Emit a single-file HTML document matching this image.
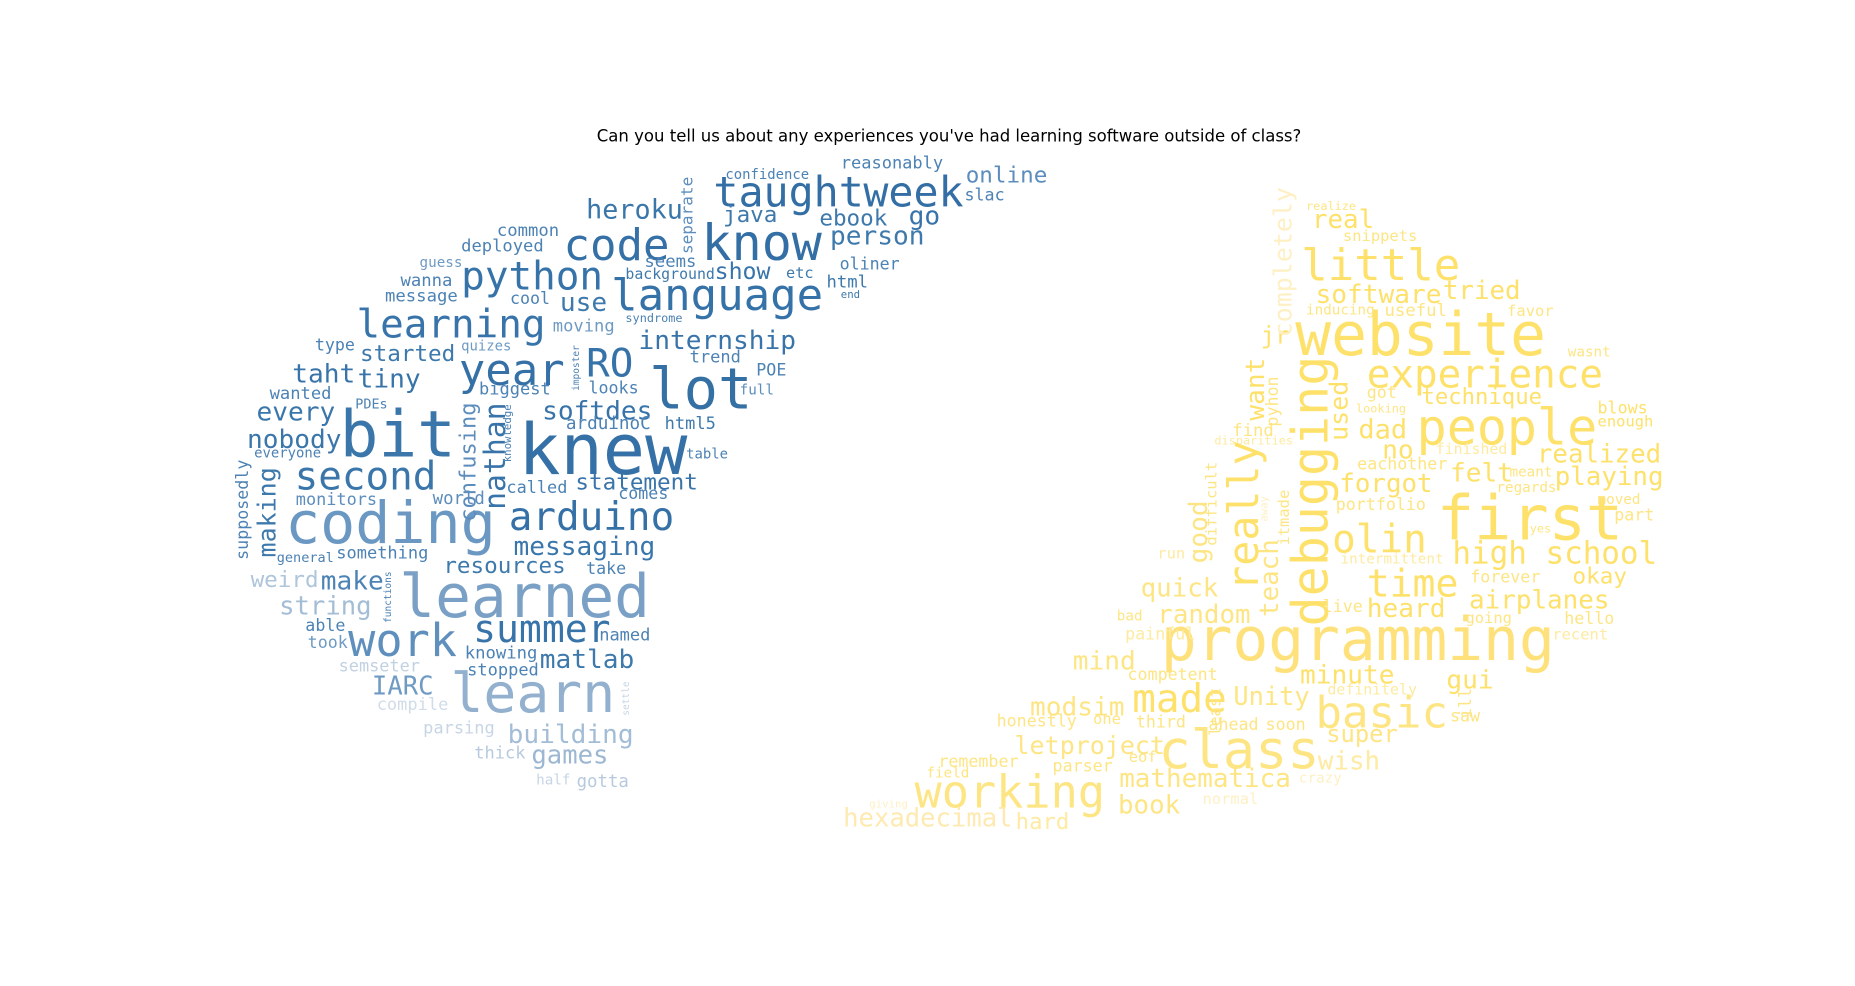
<!DOCTYPE html>
<html><head><meta charset="utf-8">
<style>
html,body{margin:0;padding:0;background:#fff;width:1855px;height:986px;overflow:hidden}
svg{display:block}
text{font-family:"DejaVu Sans Mono","Liberation Mono",monospace}
</style></head>
<body>
<svg id="cloud" width="1855" height="986" viewBox="0 0 1550 824" xmlns="http://www.w3.org/2000/svg">
<g transform="translate(-4.5,-1.5) scale(0.9944)">
<text x="802" y="120.5" text-anchor="middle" font-size="13.9" style="font-family:'DejaVu Sans','Liberation Sans',sans-serif" fill="#000">Can you tell us about any experiences you've had learning software outside of class?</text>
<g id="words"></g>
</g>
</svg>
<script>
// word, left x, baseline y (or box for rotated), font size, color, rotated
const blueWords = [
["knew",440,400,59,"#3571a6",0],["bit",290,385,54,"#3a76aa",0],["coding",244,458,49,"#6b98c2",0],
["learned",340,520,50,"#7aa1c5",0],["learn",383,600,46,"#93b1cf",0],["lot",550,345,48,"#3570a5",0],
["know",594,220,42,"#336ea4",0],["code",478,220,37,"#3571a6",0],["language",518,262,37,"#3572a7",0],
["taught",604,175,35,"#336ea4",0],["week",730,175,35,"#336ea4",0],["python",392,245,33,"#3673a8",0],
["learning",304,285,33,"#3874a9",0],["year",390,325,37,"#3571a6",0],["RO",497,318,33,"#3673a8",0],
["second",252,413,33,"#3a76aa",0],["arduino",432,447,33,"#3571a6",0],["work",297,553,38,"#5f8fbd",0],
["summer",402,541,32,"#3874a9",0],["heroku",497,185,22.5,"#3a76aa",0],["internship",541,295,22,"#3874a9",0],
["softdes",460,354,22,"#3874a9",0],["messaging",436,468,22,"#3a76aa",0],["statement",488,413,19,"#3874a9",0],
["resources",377,483,19,"#3e79ac",0],["matlab",458,563,22,"#3e79ac",0],["building",431,626,22,"#a3bdd6",0],
["games",451,643,21.5,"#9cb7d2",0],["IARC",317,585,21.5,"#6e9ac3",0],["string",239,518,21.5,"#a3bdd6",0],
["make",274,497,22,"#4c82b4",0],["weird",215,495,19,"#aec5db",0],["tiny",305,327,22,"#3874a9",0],
["taht",250,323,22,"#3874a9",0],["every",220,355,22,"#3a76aa",0],["nobody",212,378,22,"#3a76aa",0],
["started",307,305,19,"#3e79ac",0],["java",612,188,19,"#3e79ac",0],["ebook",693,191,19,"#3e79ac",0],
["go",768,190,22,"#3874a9",0],["person",702,207,22,"#3e79ac",0],["online",816,155,19,"#5c8dbc",0],
["reasonably",711,143,14.3,"#4c82b4",0],["confidence",614,152,11.7,"#4c82b4",0],["slac",815,170,14,"#4c82b4",0],
["oliner",710,228,14,"#4c82b4",0],["html",699,243,14.5,"#3e79ac",0],["end",711,252,9,"#3e79ac",0],
["etc",665,235,12.8,"#3e79ac",0],["show",605,236,19.5,"#3874a9",0],["seems",546,226,14.5,"#4c82b4",0],
["background",530,236,12.5,"#3e79ac",0],["use",475,263,22,"#3e79ac",0],["common",422,200,14.5,"#4c82b4",0],
["deployed",392,213,14.4,"#4c82b4",0],["guess",357,226,12,"#6e9ac3",0],["wanna",341,242,14.5,"#4c82b4",0],
["message",328,255,14.5,"#4c82b4",0],["cool",433,257,14,"#4c82b4",0],["moving",469,280,14.4,"#6e9ac3",0],
["syndrome",530,272,10,"#4c82b4",0],["type",269,296,14,"#4c82b4",0],["quizes",392,296,11.7,"#6e9ac3",0],
["trend",584,306,14.3,"#4c82b4",0],["POE",640,317,14,"#4c82b4",0],["full",626,333,12,"#5c8dbc",0],
["looks",499,332,14,"#4c82b4",0],["biggest",407,333,14.3,"#4c82b4",0],["wanted",231,337,14.4,"#4c82b4",0],
["PDEs",303,345,11.3,"#4c82b4",0],["arduinoC",480,362,14.8,"#4c82b4",0],["html5",563,362,14.3,"#3e79ac",0],
["everyone",218,386,11.7,"#4c82b4",0],["table",581,387,11.7,"#4c82b4",0],["called",430,416,14.2,"#4c82b4",0],
["comes",524,421,14,"#4c82b4",0],["world",368,425,14.6,"#5c8dbc",0],["monitors",253,426,14.2,"#5c8dbc",0],
["general",237,474,11.4,"#4c82b4",0],["something",287,471,14.3,"#4c82b4",0],["take",497,484,14,"#4c82b4",0],
["able",261,532,14,"#4c82b4",0],["took",263,546,14,"#6e9ac3",0],["named",508,540,14.3,"#4c82b4",0],
["knowing",395,555,14.5,"#4c82b4",0],["stopped",397,569,14.3,"#4c82b4",0],["semseter",289,566,14.2,"#c1d1e2",0],
["compile",321,598,14.3,"#d0dce8",0],["parsing",360,618,14.3,"#c7d5e4",0],["thick",403,639,14.3,"#b7cadd",0],
["half",455,661,12,"#c7d5e4",0],["gotta",489,663,14.6,"#b7cadd",0],
["nathan",410,430,25,"#3874a9",1],["confusing",390,440,18.5,"#5c8dbc",1],["making",220,470,21,"#3e79ac",1],
["supposedly",202,472,14,"#4c82b4",1],["separate",576,215,13.5,"#5c8dbc",1],["imposter",485,330,8,"#4c82b4",1],
["knowledge",427,390,9,"#4c82b4",1],["functions",327,525,8,"#4c82b4",1],["settle",527,603,8,"#c7d5e4",1]
];
const yellowWords = [
["programming",980,556,50,"#fee17a",0],["website",1093,300,50,"#fee16a",0],["first",1212,455,52,"#fee16a",0],
["class",978,647,45,"#fee583",0],["people",1195,375,42,"#fee16a",0],["basic",1110,613,37,"#fee583",0],
["little",1098,237,37,"#fee16a",0],["experience",1153,327,33,"#fee16a",0],["made",956,600,33,"#fee16a",0],
["working",773,680,38,"#fee583",0],["olin",1124,466,33,"#fee16a",0],["time",1153,503,32,"#fee16a",0],
["high school",1225,475,26,"#fee16a",0],["realized",1296,390,21.7,"#fee16a",0],["playing",1311,409,21.7,"#fee16a",0],
["airplanes",1239,513,21.8,"#fee16a",0],["okay",1326,492,19,"#fee16a",0],["technique",1199,341,18.7,"#fee16a",0],
["software",1110,256,22,"#fee16a",0],["tried",1217,253,21.7,"#fee16a",0],["real",1107,193,21.7,"#fee16a",0],
["dad",1146,370,22.7,"#fee16a",0],["no",1166,387,22,"#fee16a",0],["forgot",1130,415,21.7,"#fee16a",0],
["felt",1223,406,22,"#fee16a",0],["heard",1153,520,22,"#fee16a",0],["quick",963,503,21.7,"#fee583",0],
["random",977,525,21.7,"#fee583",0],["mind",906,564,22,"#fee583",0],["minute",1097,576,22,"#fee16a",0],
["gui",1220,580,22,"#fee16a",0],["Unity",1041,594,21.3,"#fee583",0],["modsim",870,603,22,"#fee583",0],
["let",857,635,21,"#fee583",0],["project",895,635,21,"#fee583",0],["super",1119,625,20,"#fee583",0],
["wish",1112,648,21.7,"#feeaa0",0],["mathematica",945,663,21.8,"#fee583",0],["book",944,685,21.7,"#fee583",0],
["hexadecimal",713,696,21.5,"#feeab0",0],["hard",858,698,18.7,"#feeaa0",0],["jr",1064,290,20,"#fee16a",0],
["realize",1102,178,10,"#fee583",0],["snippets",1133,204,13,"#fee583",0],["inducing",1102,266,12,"#fee583",0],
["useful",1168,267,14.5,"#fee583",0],["favor",1271,267,13,"#fee583",0],["wasnt",1322,301,12,"#fee583",0],
["got",1153,336,14,"#fee583",0],["looking",1144,348,10,"#fee583",0],["find",1040,368,14.5,"#fee583",0],
["disparities",1025,375,10,"#feeaa0",0],["finished",1211,383,12.5,"#feeaa0",0],["eachother",1145,396,14,"#fee583",0],
["meant",1273,402,12,"#fee583",0],["regards",1262,415,12,"#fee583",0],["moved",1347,425,12,"#fee583",0],
["portfolio",1127,430,14,"#fee583",0],["part",1361,439,14,"#fee583",0],["yes",1290,449,10,"#fee583",0],
["run",977,471,13,"#feeaa0",0],["intermittent",1131,475,12,"#feeaa0",0],["forever",1240,491,14,"#fee583",0],
["blows",1347,349,14,"#fee16a",0],["enough",1347,360,13,"#fee16a",0],["live",1116,516,14,"#fee583",0],
["going",1236,525,13,"#fee583",0],["hello",1319,526,14,"#fee583",0],["bad",943,523,12,"#fee583",0],
["painful",950,539,14,"#feeaa0",0],["recent",1309,539,13,"#feeaa0",0],["competent",952,573,14,"#fee583",0],
["definitely",1120,585,12.5,"#feeaa0",0],["saw",1223,608,14,"#fee583",0],["honestly",842,612,14,"#fee583",0],
["one",923,610,13,"#fee583",0],["third",959,613,14,"#fee583",0],["ahead",1020,615,14,"#fee583",0],
["soon",1068,615,14,"#fee583",0],["remember",793,646,14,"#fee583",0],["parser",889,650,14,"#fee583",0],
["eof",953,642,13,"#fee583",0],["field",783,655,12,"#fee583",0],["crazy",1096,659,12,"#fef0c4",0],
["normal",1015,677,13,"#fef0c4",0],["giving",735,680,9,"#fef0c4",0],
["debugging",1088,528,42,"#fee16a",1],["really",1035,498,35,"#fee16a",1],["want",1050,355,22,"#fee16a",1],
["teach",1062,520,21.7,"#fee583",1],["good",1002,475,22,"#fee583",1],["completely",1074,285,21,"#fef0c4",1],
["used",1121,372,21,"#fee16a",1],["difficult",1017,460,13,"#fee583",1],["least",1020,620,13.5,"#fee583",1],
["itmade",1078,460,13,"#fee583",1],["pyhon",1068,360,14,"#fee583",1],["away",1063,440,9,"#fef0c4",1],
["ill",1230,605,14,"#fee583",1]
];
const g = document.getElementById('words');
const NS = "http://www.w3.org/2000/svg";
function place(list, prefix){
  list.forEach(function(w){
    const t = document.createElementNS(NS,'text');
    
    
    t.setAttribute('font-size', w[3]);
    t.setAttribute('fill', w[4]);
    t.textContent = w[0];
    if (w[5]) {
      const bx = w[1] + 0.76*w[3];
      t.setAttribute('x', bx); t.setAttribute('y', w[2]);
      t.setAttribute('transform', 'rotate(-90 ' + bx + ' ' + w[2] + ')');
    } else {
      t.setAttribute('x', w[1]); t.setAttribute('y', w[2]);
    }
    g.appendChild(t);
  });
}
place(blueWords, 'blue');
place(yellowWords, 'yellow');
</script>
</body></html>
